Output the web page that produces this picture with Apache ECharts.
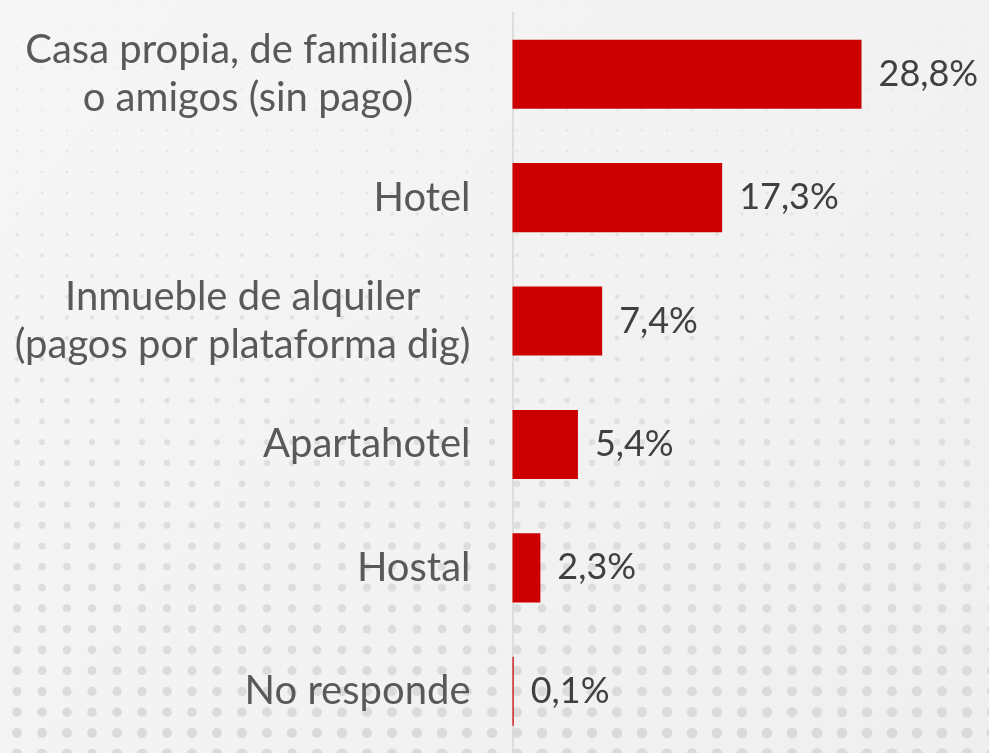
<!DOCTYPE html>
<html>
<head>
<meta charset="utf-8">
<script src="https://cdn.jsdelivr.net/npm/echarts@6/dist/echarts.min.js"></script>
<style>html,body{margin:0;padding:0;background:#f2f2f2;}#c{width:989px;height:753px;}</style>
</head>
<body>
<div id="c"></div>
<script>
const categories = [
  "Casa propia, de familiares\no amigos (sin pago)",
  "Hotel",
  "Inmueble de alquiler\n(pagos por plataforma dig)",
  "Apartahotel",
  "Hostal",
  "No responde"
];
const values = [28.8, 17.3, 7.4, 5.4, 2.3, 0.1];

const FONT = 'Lato, "Open Sans", sans-serif';

// dotted background
const W = 989, H = 753;
const bg = document.createElement('canvas');
bg.width = W; bg.height = H;
const ctx = bg.getContext('2d');
const grd = ctx.createLinearGradient(0, 0, W, H);
grd.addColorStop(0, '#f6f6f6');
grd.addColorStop(1, '#efefef');
ctx.fillStyle = grd;
ctx.fillRect(0, 0, W, H);
for (let y = 6; y < H + 20; y += 20.77) {
  for (let x = 17; x < W + 20; x += 25) {
    const t = y / H;
    const r = 0.8 + 4.2 * Math.pow(t, 1.3) + 0.6 * (x / W) * t;
    const g = Math.round(235 - 17 * Math.pow(t, 0.7));
    ctx.fillStyle = 'rgb(' + g + ',' + g + ',' + g + ')';
    ctx.beginPath();
    ctx.arc(x, y, r, 0, Math.PI * 2);
    ctx.fill();
  }
}

const chart = echarts.init(document.getElementById('c'), null, {renderer: 'canvas'});
chart.setOption({
  backgroundColor: {image: bg, repeat: 'no-repeat'},
  animation: false,
  grid: {left: 512.5, top: 12.5, height: 744, width: 30 * 12.118, containLabel: false},
  xAxis: {type: 'value', min: 0, max: 30, show: false},
  yAxis: {
    type: 'category',
    data: categories,
    inverse: true,
    axisTick: {show: false},
    axisLine: {show: true, lineStyle: {color: '#d6d6d6', width: 1.5}},
    axisLabel: {
      margin: 42,
      align: 'right',
      fontFamily: FONT,
      fontSize: 40,
      color: '#595959',
      lineHeight: 48,
      formatter: function (v) {
        const lines = v.split('\n');
        return lines.map(l => '{c|' + l + '}').join('\n');
      },
      rich: {c: {align: 'center', fontFamily: FONT, fontSize: 40, color: '#595959', lineHeight: 48}}
    }
  },
  series: [{
    type: 'bar',
    data: values,
    barCategoryGap: '44%',
    itemStyle: {color: '#cc0000'},
    label: {
      show: true,
      position: 'right',
      distance: 17,
      fontFamily: FONT,
      fontSize: 36,
      color: '#404040',
      formatter: p => p.value.toFixed(1).replace('.', ',') + '%'
    }
  }]
});
</script>
</body>
</html>
